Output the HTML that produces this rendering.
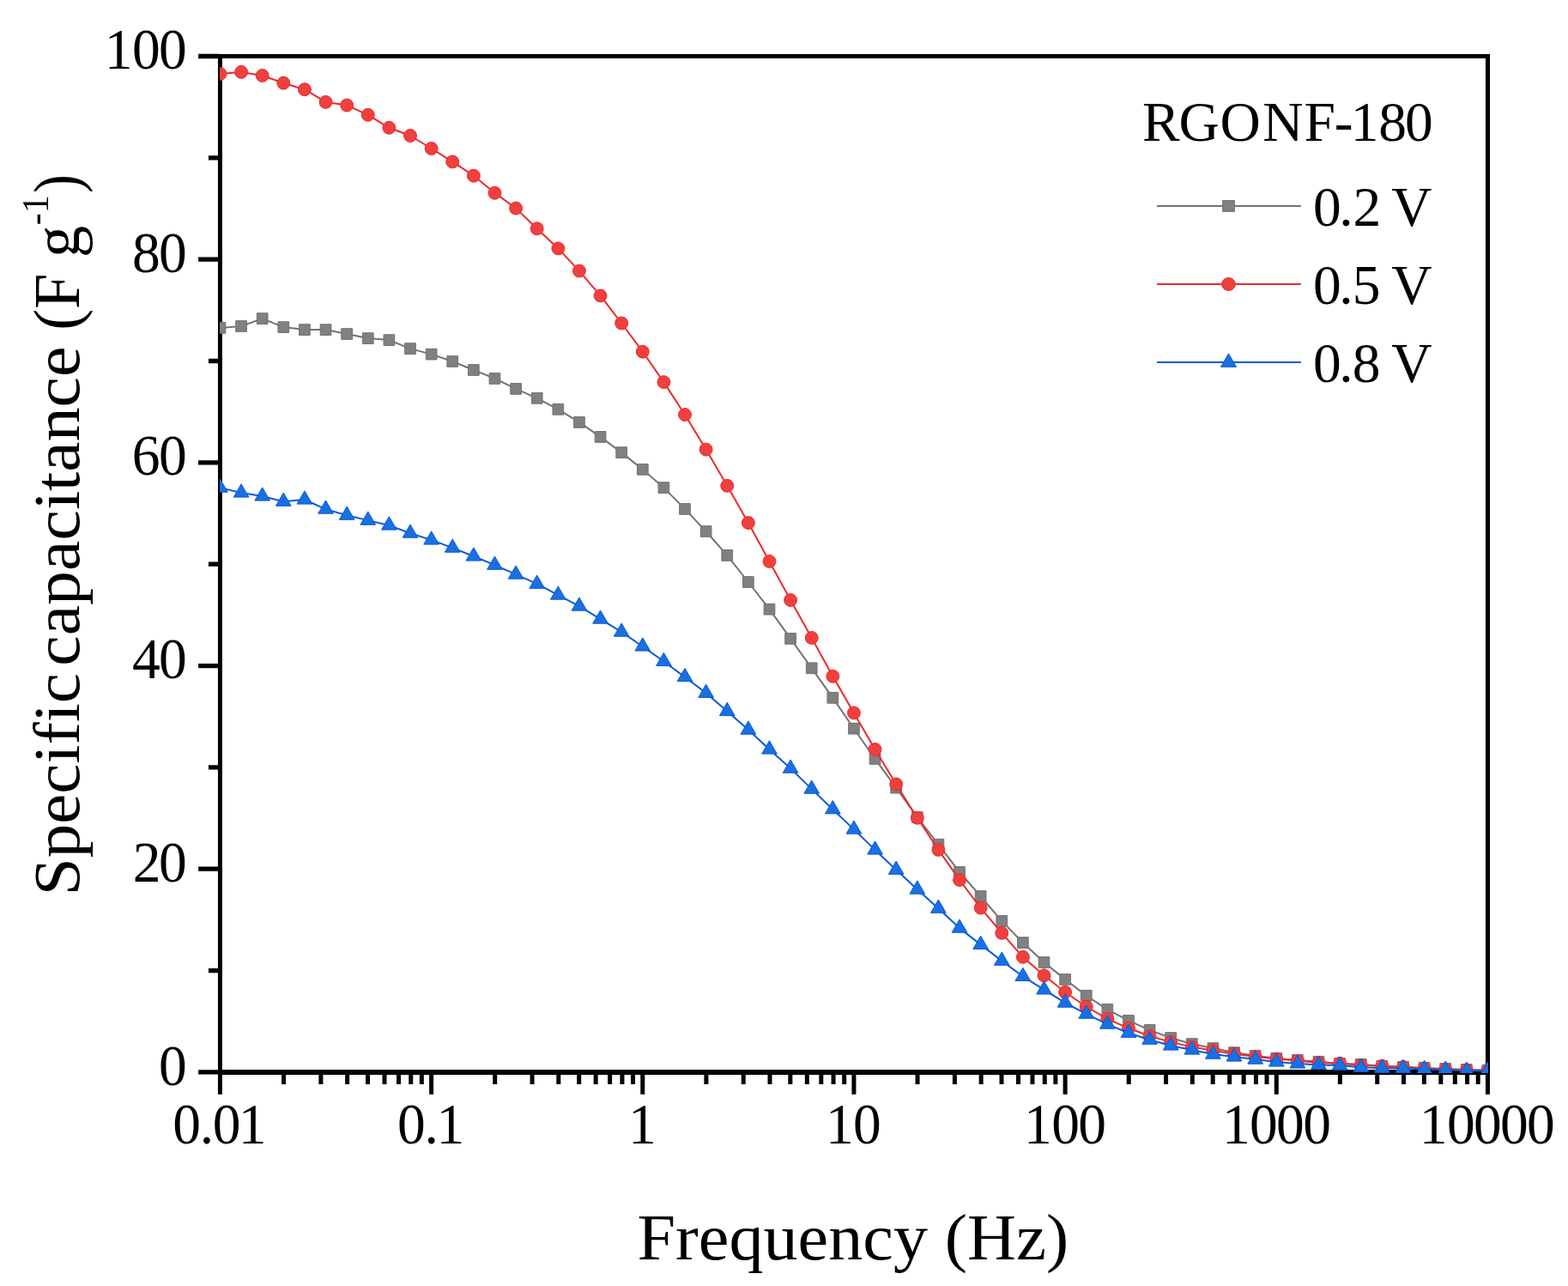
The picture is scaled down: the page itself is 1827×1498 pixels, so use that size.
<!DOCTYPE html>
<html><head><meta charset="utf-8"><title>Specific capacitance vs Frequency</title>
<style>html,body{margin:0;padding:0;background:#fff;}svg{display:block;}</style>
</head><body>
<svg width="1827" height="1498" viewBox="0 0 1827 1498">
<defs><clipPath id="pc"><rect x="256" y="63" width="1478" height="1187"/></clipPath></defs>
<rect width="1827" height="1498" fill="#fff"/>
<path d="M231.1 1246.25H255V1251.55H231.1zM242.94 1127.91H255V1133.21H242.94zM231.1 1009.57H255V1014.87H231.1zM242.94 891.23H255V896.53H242.94zM231.1 772.89H255V778.19H231.1zM242.94 654.55H255V659.85H242.94zM231.1 536.21H255V541.51H231.1zM242.94 417.87H255V423.17H242.94zM231.1 299.53H255V304.83H231.1zM242.94 181.19H255V186.49H242.94zM231.1 62.85H255V68.15H231.1zM253.95 1250V1274.85H258.95V1250zM328.05 1250V1263H333.05V1250zM371.4 1250V1263H376.4V1250zM402.16 1250V1263H407.16V1250zM426.01 1250V1263H431.01V1250zM445.5 1250V1263H450.5V1250zM461.98 1250V1263H466.98V1250zM476.26 1250V1263H481.26V1250zM488.85 1250V1263H493.85V1250zM500.12 1250V1274.85H505.12V1250zM574.22 1250V1263H579.22V1250zM617.57 1250V1263H622.57V1250zM648.32 1250V1263H653.32V1250zM672.18 1250V1263H677.18V1250zM691.67 1250V1263H696.67V1250zM708.15 1250V1263H713.15V1250zM722.43 1250V1263H727.43V1250zM735.02 1250V1263H740.02V1250zM746.28 1250V1274.85H751.28V1250zM820.39 1250V1263H825.39V1250zM863.73 1250V1263H868.73V1250zM894.49 1250V1263H899.49V1250zM918.35 1250V1263H923.35V1250zM937.84 1250V1263H942.84V1250zM954.32 1250V1263H959.32V1250zM968.59 1250V1263H973.59V1250zM981.19 1250V1263H986.19V1250zM992.45 1250V1274.85H997.45V1250zM1066.55 1250V1263H1071.55V1250zM1109.9 1250V1263H1114.9V1250zM1140.66 1250V1263H1145.66V1250zM1164.51 1250V1263H1169.51V1250zM1184 1250V1263H1189V1250zM1200.48 1250V1263H1205.48V1250zM1214.76 1250V1263H1219.76V1250zM1227.35 1250V1263H1232.35V1250zM1238.62 1250V1274.85H1243.62V1250zM1312.72 1250V1263H1317.72V1250zM1356.07 1250V1263H1361.07V1250zM1386.82 1250V1263H1391.82V1250zM1410.68 1250V1263H1415.68V1250zM1430.17 1250V1263H1435.17V1250zM1446.65 1250V1263H1451.65V1250zM1460.93 1250V1263H1465.93V1250zM1473.52 1250V1263H1478.52V1250zM1484.78 1250V1274.85H1489.78V1250zM1558.89 1250V1263H1563.89V1250zM1602.23 1250V1263H1607.23V1250zM1632.99 1250V1263H1637.99V1250zM1656.85 1250V1263H1661.85V1250zM1676.34 1250V1263H1681.34V1250zM1692.82 1250V1263H1697.82V1250zM1707.09 1250V1263H1712.09V1250zM1719.69 1250V1263H1724.69V1250zM1730.95 1250V1274.85H1735.95V1250z" fill="#000"/>
<path d="M253.95 62.95H1736V68.02H253.95zM253.95 1245.9H1736V1251.9H253.95zM253.95 62.95H258.95V1251.9H253.95zM1730.95 62.95H1736V1251.9H1730.95z" fill="#000"/>
<g clip-path="url(#pc)">
<polyline points="256.45,381.9 281.07,380 305.68,371.1 330.3,381.1 354.92,384.1 379.53,384.1 404.15,389 428.77,394.1 453.38,396.1 478,406.1 502.62,412.6 527.23,421 551.85,431 576.47,440.9 601.08,452.9 625.7,463.8 650.32,476.8 674.93,491.9 699.55,508.9 724.17,527.1 748.78,546.8 773.4,568.1 798.02,592.9 822.63,619 847.25,646.9 871.87,678 896.48,709.7 921.1,743.9 945.72,778.3 970.33,812.8 994.95,848.7 1019.57,883.9 1044.18,917.7 1068.8,952 1093.42,983.7 1118.03,1015.9 1142.65,1044 1167.27,1072.9 1191.88,1098.1 1216.5,1121 1241.12,1140.9 1265.73,1159.8 1290.35,1175.9 1314.97,1188.9 1339.58,1199.9 1364.2,1209 1388.82,1216 1413.43,1221 1438.05,1226.1 1462.67,1229.8 1487.28,1232.8 1511.9,1234.9 1536.52,1236.7 1561.13,1238.9 1585.75,1239.8 1610.37,1241.9 1634.98,1242.8 1659.6,1243.9 1684.22,1244.9 1708.83,1245.9 1733.45,1246.7" fill="none" stroke="#727272" stroke-width="2.0" stroke-linejoin="round"/>
<path d="M250.1 375.55h12.7v12.7h-12.7zM274.72 373.65h12.7v12.7h-12.7zM299.33 364.75h12.7v12.7h-12.7zM323.95 374.75h12.7v12.7h-12.7zM348.57 377.75h12.7v12.7h-12.7zM373.18 377.75h12.7v12.7h-12.7zM397.8 382.65h12.7v12.7h-12.7zM422.42 387.75h12.7v12.7h-12.7zM447.03 389.75h12.7v12.7h-12.7zM471.65 399.75h12.7v12.7h-12.7zM496.27 406.25h12.7v12.7h-12.7zM520.88 414.65h12.7v12.7h-12.7zM545.5 424.65h12.7v12.7h-12.7zM570.12 434.55h12.7v12.7h-12.7zM594.73 446.55h12.7v12.7h-12.7zM619.35 457.45h12.7v12.7h-12.7zM643.97 470.45h12.7v12.7h-12.7zM668.58 485.55h12.7v12.7h-12.7zM693.2 502.55h12.7v12.7h-12.7zM717.82 520.75h12.7v12.7h-12.7zM742.43 540.45h12.7v12.7h-12.7zM767.05 561.75h12.7v12.7h-12.7zM791.67 586.55h12.7v12.7h-12.7zM816.28 612.65h12.7v12.7h-12.7zM840.9 640.55h12.7v12.7h-12.7zM865.52 671.65h12.7v12.7h-12.7zM890.13 703.35h12.7v12.7h-12.7zM914.75 737.55h12.7v12.7h-12.7zM939.37 771.95h12.7v12.7h-12.7zM963.98 806.45h12.7v12.7h-12.7zM988.6 842.35h12.7v12.7h-12.7zM1013.22 877.55h12.7v12.7h-12.7zM1037.83 911.35h12.7v12.7h-12.7zM1062.45 945.65h12.7v12.7h-12.7zM1087.07 977.35h12.7v12.7h-12.7zM1111.68 1009.55h12.7v12.7h-12.7zM1136.3 1037.65h12.7v12.7h-12.7zM1160.92 1066.55h12.7v12.7h-12.7zM1185.53 1091.75h12.7v12.7h-12.7zM1210.15 1114.65h12.7v12.7h-12.7zM1234.77 1134.55h12.7v12.7h-12.7zM1259.38 1153.45h12.7v12.7h-12.7zM1284 1169.55h12.7v12.7h-12.7zM1308.62 1182.55h12.7v12.7h-12.7zM1333.23 1193.55h12.7v12.7h-12.7zM1357.85 1202.65h12.7v12.7h-12.7zM1382.47 1209.65h12.7v12.7h-12.7zM1407.08 1214.65h12.7v12.7h-12.7zM1431.7 1219.75h12.7v12.7h-12.7zM1456.32 1223.45h12.7v12.7h-12.7zM1480.93 1226.45h12.7v12.7h-12.7zM1505.55 1228.55h12.7v12.7h-12.7zM1530.17 1230.35h12.7v12.7h-12.7zM1554.78 1232.55h12.7v12.7h-12.7zM1579.4 1233.45h12.7v12.7h-12.7zM1604.02 1235.55h12.7v12.7h-12.7zM1628.63 1236.45h12.7v12.7h-12.7zM1653.25 1237.55h12.7v12.7h-12.7zM1677.87 1238.55h12.7v12.7h-12.7zM1702.48 1239.55h12.7v12.7h-12.7zM1727.1 1240.35h12.7v12.7h-12.7z" fill="#808080" stroke="#727272" stroke-width="1"/>
<polyline points="256.45,86 281.07,83.9 305.68,88 330.3,96.7 354.92,104.2 379.53,118.9 404.15,122.6 428.77,133.8 453.38,148.8 478,158 502.62,173 527.23,188.4 551.85,204.7 576.47,224.8 601.08,242.6 625.7,266.3 650.32,289.4 674.93,315.6 699.55,344.4 724.17,376.5 748.78,409.7 773.4,445.1 798.02,483 822.63,523.6 847.25,565.8 871.87,609 896.48,653.9 921.1,699 945.72,743 970.33,787.8 994.95,830.4 1019.57,872.9 1044.18,913.5 1068.8,952.7 1093.42,989.9 1118.03,1025 1142.65,1057.6 1167.27,1086.8 1191.88,1114.8 1216.5,1136.3 1241.12,1155.8 1265.73,1172.7 1290.35,1186.9 1314.97,1197.8 1339.58,1206.8 1364.2,1213.9 1388.82,1219.6 1413.43,1223.8 1438.05,1227.7 1462.67,1230.8 1487.28,1233.5 1511.9,1235.6 1536.52,1238 1561.13,1238.7 1585.75,1240.8 1610.37,1241.7 1634.98,1242.9 1659.6,1244.4 1684.22,1245.6 1708.83,1246.3 1733.45,1247" fill="none" stroke="#EE2828" stroke-width="2.0" stroke-linejoin="round"/>
<g fill="#EF4040" stroke="#EE2828" stroke-width="1"><circle cx="256.45" cy="86" r="7.45"/><circle cx="281.07" cy="83.9" r="7.45"/><circle cx="305.68" cy="88" r="7.45"/><circle cx="330.3" cy="96.7" r="7.45"/><circle cx="354.92" cy="104.2" r="7.45"/><circle cx="379.53" cy="118.9" r="7.45"/><circle cx="404.15" cy="122.6" r="7.45"/><circle cx="428.77" cy="133.8" r="7.45"/><circle cx="453.38" cy="148.8" r="7.45"/><circle cx="478" cy="158" r="7.45"/><circle cx="502.62" cy="173" r="7.45"/><circle cx="527.23" cy="188.4" r="7.45"/><circle cx="551.85" cy="204.7" r="7.45"/><circle cx="576.47" cy="224.8" r="7.45"/><circle cx="601.08" cy="242.6" r="7.45"/><circle cx="625.7" cy="266.3" r="7.45"/><circle cx="650.32" cy="289.4" r="7.45"/><circle cx="674.93" cy="315.6" r="7.45"/><circle cx="699.55" cy="344.4" r="7.45"/><circle cx="724.17" cy="376.5" r="7.45"/><circle cx="748.78" cy="409.7" r="7.45"/><circle cx="773.4" cy="445.1" r="7.45"/><circle cx="798.02" cy="483" r="7.45"/><circle cx="822.63" cy="523.6" r="7.45"/><circle cx="847.25" cy="565.8" r="7.45"/><circle cx="871.87" cy="609" r="7.45"/><circle cx="896.48" cy="653.9" r="7.45"/><circle cx="921.1" cy="699" r="7.45"/><circle cx="945.72" cy="743" r="7.45"/><circle cx="970.33" cy="787.8" r="7.45"/><circle cx="994.95" cy="830.4" r="7.45"/><circle cx="1019.57" cy="872.9" r="7.45"/><circle cx="1044.18" cy="913.5" r="7.45"/><circle cx="1068.8" cy="952.7" r="7.45"/><circle cx="1093.42" cy="989.9" r="7.45"/><circle cx="1118.03" cy="1025" r="7.45"/><circle cx="1142.65" cy="1057.6" r="7.45"/><circle cx="1167.27" cy="1086.8" r="7.45"/><circle cx="1191.88" cy="1114.8" r="7.45"/><circle cx="1216.5" cy="1136.3" r="7.45"/><circle cx="1241.12" cy="1155.8" r="7.45"/><circle cx="1265.73" cy="1172.7" r="7.45"/><circle cx="1290.35" cy="1186.9" r="7.45"/><circle cx="1314.97" cy="1197.8" r="7.45"/><circle cx="1339.58" cy="1206.8" r="7.45"/><circle cx="1364.2" cy="1213.9" r="7.45"/><circle cx="1388.82" cy="1219.6" r="7.45"/><circle cx="1413.43" cy="1223.8" r="7.45"/><circle cx="1438.05" cy="1227.7" r="7.45"/><circle cx="1462.67" cy="1230.8" r="7.45"/><circle cx="1487.28" cy="1233.5" r="7.45"/><circle cx="1511.9" cy="1235.6" r="7.45"/><circle cx="1536.52" cy="1238" r="7.45"/><circle cx="1561.13" cy="1238.7" r="7.45"/><circle cx="1585.75" cy="1240.8" r="7.45"/><circle cx="1610.37" cy="1241.7" r="7.45"/><circle cx="1634.98" cy="1242.9" r="7.45"/><circle cx="1659.6" cy="1244.4" r="7.45"/><circle cx="1684.22" cy="1245.6" r="7.45"/><circle cx="1708.83" cy="1246.3" r="7.45"/><circle cx="1733.45" cy="1247" r="7.45"/></g>
<polyline points="256.45,568.1 281.07,574 305.68,578 330.3,584.2 354.92,582 379.53,593.1 404.15,600.2 428.77,606.1 453.38,612 478,621.1 502.62,629 527.23,638.1 551.85,648 576.47,658.2 601.08,669.1 625.7,680.2 650.32,693.1 674.93,706.1 699.55,721.1 724.17,736.2 748.78,753 773.4,770.5 798.02,788.6 822.63,807.3 847.25,828.5 871.87,850.1 896.48,873 921.1,895.1 945.72,919.1 970.33,942.7 994.95,966.1 1019.57,990 1044.18,1013.2 1068.8,1036.1 1093.42,1058.2 1118.03,1081.1 1142.65,1100.4 1167.27,1119.2 1191.88,1137.4 1216.5,1152.9 1241.12,1168.1 1265.73,1181.1 1290.35,1193.1 1314.97,1203.2 1339.58,1211.2 1364.2,1218 1388.82,1223 1413.43,1228.1 1438.05,1231 1462.67,1234.1 1487.28,1237 1511.9,1239 1536.52,1240.4 1561.13,1241.1 1585.75,1243.3 1610.37,1244.2 1634.98,1244.3 1659.6,1245.4 1684.22,1246.3 1708.83,1247.3 1733.45,1247.3" fill="none" stroke="#0659DC" stroke-width="2.0" stroke-linejoin="round"/>
<path d="M256.45 557.9L265.28 573.2L247.62 573.2zM281.07 563.8L289.9 579.1L272.23 579.1zM305.68 567.8L314.52 583.1L296.85 583.1zM330.3 574L339.13 589.3L321.47 589.3zM354.92 571.8L363.75 587.1L346.08 587.1zM379.53 582.9L388.37 598.2L370.7 598.2zM404.15 590L412.98 605.3L395.32 605.3zM428.77 595.9L437.6 611.2L419.93 611.2zM453.38 601.8L462.22 617.1L444.55 617.1zM478 610.9L486.83 626.2L469.17 626.2zM502.62 618.8L511.45 634.1L493.78 634.1zM527.23 627.9L536.07 643.2L518.4 643.2zM551.85 637.8L560.68 653.1L543.02 653.1zM576.47 648L585.3 663.3L567.63 663.3zM601.08 658.9L609.92 674.2L592.25 674.2zM625.7 670L634.53 685.3L616.87 685.3zM650.32 682.9L659.15 698.2L641.48 698.2zM674.93 695.9L683.77 711.2L666.1 711.2zM699.55 710.9L708.38 726.2L690.72 726.2zM724.17 726L733 741.3L715.33 741.3zM748.78 742.8L757.62 758.1L739.95 758.1zM773.4 760.3L782.23 775.6L764.57 775.6zM798.02 778.4L806.85 793.7L789.18 793.7zM822.63 797.1L831.47 812.4L813.8 812.4zM847.25 818.3L856.08 833.6L838.42 833.6zM871.87 839.9L880.7 855.2L863.03 855.2zM896.48 862.8L905.32 878.1L887.65 878.1zM921.1 884.9L929.93 900.2L912.27 900.2zM945.72 908.9L954.55 924.2L936.88 924.2zM970.33 932.5L979.17 947.8L961.5 947.8zM994.95 955.9L1003.78 971.2L986.12 971.2zM1019.57 979.8L1028.4 995.1L1010.73 995.1zM1044.18 1003L1053.02 1018.3L1035.35 1018.3zM1068.8 1025.9L1077.63 1041.2L1059.97 1041.2zM1093.42 1048L1102.25 1063.3L1084.58 1063.3zM1118.03 1070.9L1126.87 1086.2L1109.2 1086.2zM1142.65 1090.2L1151.48 1105.5L1133.82 1105.5zM1167.27 1109L1176.1 1124.3L1158.43 1124.3zM1191.88 1127.2L1200.72 1142.5L1183.05 1142.5zM1216.5 1142.7L1225.33 1158L1207.67 1158zM1241.12 1157.9L1249.95 1173.2L1232.28 1173.2zM1265.73 1170.9L1274.57 1186.2L1256.9 1186.2zM1290.35 1182.9L1299.18 1198.2L1281.52 1198.2zM1314.97 1193L1323.8 1208.3L1306.13 1208.3zM1339.58 1201L1348.42 1216.3L1330.75 1216.3zM1364.2 1207.8L1373.03 1223.1L1355.37 1223.1zM1388.82 1212.8L1397.65 1228.1L1379.98 1228.1zM1413.43 1217.9L1422.27 1233.2L1404.6 1233.2zM1438.05 1220.8L1446.88 1236.1L1429.22 1236.1zM1462.67 1223.9L1471.5 1239.2L1453.83 1239.2zM1487.28 1226.8L1496.12 1242.1L1478.45 1242.1zM1511.9 1228.8L1520.73 1244.1L1503.07 1244.1zM1536.52 1230.2L1545.35 1245.5L1527.68 1245.5zM1561.13 1230.9L1569.97 1246.2L1552.3 1246.2zM1585.75 1233.1L1594.58 1248.4L1576.92 1248.4zM1610.37 1234L1619.2 1249.3L1601.53 1249.3zM1634.98 1234.1L1643.82 1249.4L1626.15 1249.4zM1659.6 1235.2L1668.43 1250.5L1650.77 1250.5zM1684.22 1236.1L1693.05 1251.4L1675.38 1251.4zM1708.83 1237.1L1717.67 1252.4L1700 1252.4zM1733.45 1237.1L1742.28 1252.4L1724.62 1252.4z" fill="#1B70DF" stroke="#0659DC" stroke-width="1"/>
</g>

<path d="M1348 240H1515.9" stroke="#727272" stroke-width="1.9"/>
<rect x="1424.65" y="233.55" width="13.7" height="12.8" fill="#808080" stroke="#727272" stroke-width="1"/>
<path d="M1348 331H1515.9" stroke="#EE2828" stroke-width="1.9"/>
<ellipse cx="1431.5" cy="331" rx="7.9" ry="7.5" fill="#EF4040" stroke="#EE2828" stroke-width="1"/>
<path d="M1348 422H1515.9" stroke="#0659DC" stroke-width="1.9"/>
<path d="M1431.5 411.9L1440.45 427.35L1422.55 427.35z" fill="#1B70DF" stroke="#0659DC" stroke-width="1"/>
<g font-family="'Liberation Serif', 'DejaVu Serif', serif" font-size="100" fill="#000">
<text transform="matrix(0.6550 0 0 0.6720 0 1263.50)" x="282.48">0</text>
<text transform="matrix(0.6550 0 0 0.6720 0 1026.82)" x="236.11 282.48">20</text>
<text transform="matrix(0.6550 0 0 0.6720 0 790.14)" x="235.11 282.48">40</text>
<text transform="matrix(0.6550 0 0 0.6720 0 553.46)" x="234.61 282.48">60</text>
<text transform="matrix(0.6550 0 0 0.6720 0 316.78)" x="235.11 282.48">80</text>
<text transform="matrix(0.6550 0 0 0.6720 0 80.10)" x="185.98 235.11 282.48">100</text>
<text transform="matrix(0.6550 0 0 0.6720 0 1331.50)" x="307.28 355.30 378.32 423.94">0.01</text>
<text transform="matrix(0.6550 0 0 0.6720 0 1331.50)" x="706.98 755.00 776.26">0.1</text>
<text transform="matrix(0.6550 0 0 0.6720 0 1331.50)" x="1117.39">1</text>
<text transform="matrix(0.6550 0 0 0.6720 0 1331.50)" x="1468.54 1517.66">10</text>
<text transform="matrix(0.6550 0 0 0.6720 0 1331.50)" x="1821.36 1870.49 1917.86">100</text>
<text transform="matrix(0.6550 0 0 0.6720 0 1331.50)" x="2173.88 2223.01 2270.38 2317.76">1000</text>
<text transform="matrix(0.6550 0 0 0.6720 0 1331.50)" x="2524.95 2574.08 2621.45 2668.82 2716.20">10000</text>
<text transform="matrix(0.6550 0 0 0.6650 0 164.00)" x="2032.02 2096.94 2170.18 2246.02 2319.68 2373.84 2402.51 2452.25 2499.12">RGONF-180</text>
<text transform="matrix(0.6550 0 0 0.6600 0 262.80)" x="2336.07 2382.00 2406.69 2458.02 2475.15">0.2 V</text>
<text transform="matrix(0.6550 0 0 0.6600 0 353.80)" x="2336.07 2382.00 2405.69 2458.02 2475.15">0.5 V</text>
<text transform="matrix(0.6550 0 0 0.6600 0 444.80)" x="2336.07 2382.00 2405.69 2458.02 2475.15">0.8 V</text>
<text transform="matrix(0.8024 0 0 0.7677 742.44 1466.90)">Frequency</text>
<text transform="matrix(0.7886 0 0 0.7677 1100.85 1466.90)">(Hz)</text>
<text transform="translate(92.00 1043.24) rotate(-90) scale(0.7909 0.7708)">Specific</text>
<text transform="translate(92.00 775.79) rotate(-90) scale(0.7985 0.7708)">capacitance</text>
<text transform="translate(92.00 384.78) rotate(-90) scale(0.7449 0.7708)">(F g</text>
<text transform="translate(55.60 262.17) rotate(-90) scale(0.4178 0.4485)">-1</text>
<text transform="translate(92.00 224.74) rotate(-90) scale(0.6462 0.7708)">)</text>
</g>
</svg>
</body></html>
